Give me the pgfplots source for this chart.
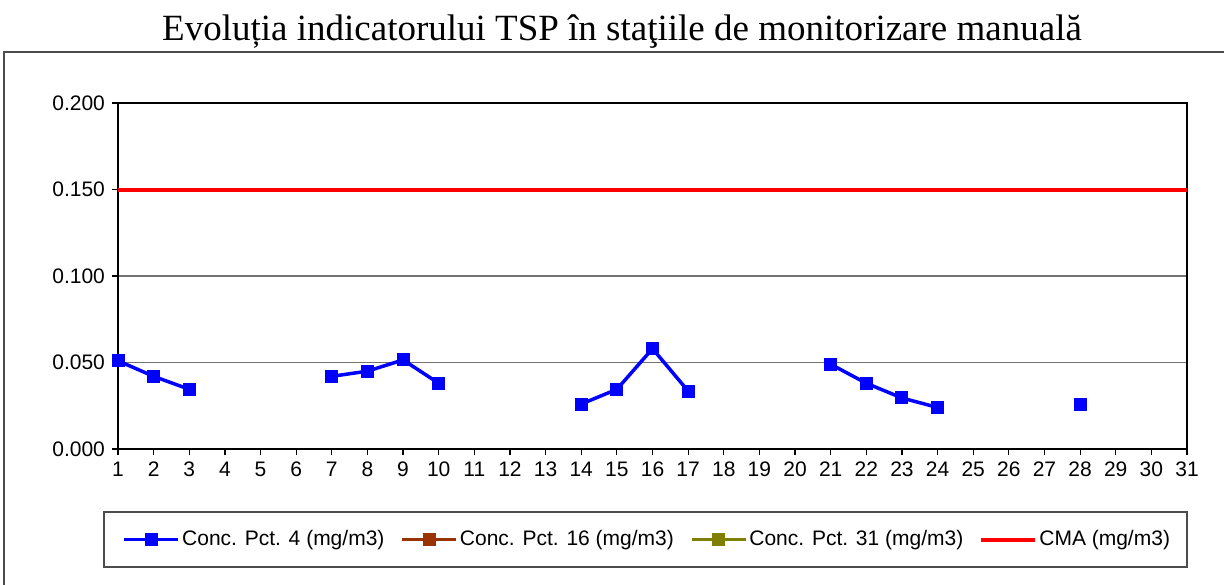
\documentclass[border=0pt]{standalone}
\usepackage{pgfplots}
\pgfplotsset{compat=1.18}
\usepackage{fontspec}
\setmainfont{Liberation Sans}
\newfontfamily\titlefont{Liberation Serif}
\definecolor{pblue}{RGB}{0,0,255}
\definecolor{pbrown}{RGB}{153,51,0}
\definecolor{polive}{RGB}{128,128,0}
\definecolor{pred}{RGB}{255,0,0}
\begin{document}
\begin{tikzpicture}[x=1pt,y=1pt]
\useasboundingbox (0,0) rectangle (612,292);
\draw[line width=0.7pt, black!70] (2,-5) rectangle (620,266);
\node[font=\titlefont\fontsize{18.5}{21}\selectfont] at (311,276) {Evoluția indicatorului TSP în staţiile de monitorizare manuală};
\begin{axis}[
  at={(59pt,67.5pt)}, anchor=south west,
  width=534.5pt, height=173pt, scale only axis,
  xmin=1, xmax=31, ymin=0, ymax=0.2,
  xtick={1,...,31},
  ytick={0,0.05,0.1,0.15,0.2},
  scaled y ticks=false,
  yticklabel style={/pgf/number format/.cd, fixed, fixed zerofill, precision=3, assume math mode=true},
  xticklabel style={/pgf/number format/assume math mode=true},
  tick label style={font=\fontsize{10.5}{12}\selectfont},
  ymajorgrids,
  grid style={black!55, line width=0.7pt},
  axis line style={line width=1pt},
  tick style={black, line width=0.6pt},
  tick align=outside,
  xtick pos=bottom, ytick pos=left,
  major tick length=3pt,
  unbounded coords=jump,
  legend columns=4,
  legend image code/.code={\draw[mark repeat=2,mark phase=2,#1] plot coordinates {(0pt,0pt)(13.5pt,0pt)(27pt,0pt)};},
  legend style={at={(0.004,-0.2616)}, anchor=west, draw=none, fill=none, inner sep=0pt,
    font=\fontsize{10.5}{12}\selectfont,
    nodes={inner xsep=1pt},
    /tikz/every odd column/.append style={column sep=0pt},
    /tikz/every even column/.append style={column sep=7pt}},
]
\addplot[pblue, line width=1.75pt, mark=square*, mark size=3pt, mark options={solid, fill=pblue, line width=0.5pt}]
  coordinates {(1,0.051)(2,0.042)(3,0.0345)(4,nan)(7,0.042)(8,0.045)(9,0.0515)(10,0.038)(11,nan)
  (14,0.026)(15,0.0345)(16,0.058)(17,0.0335)(18,nan)(21,0.049)(22,0.038)(23,0.0295)(24,0.024)(25,nan)(28,0.026)};
\addlegendentry{Conc. Pct. 4 (mg/m3)}
\addlegendimage{pbrown, line width=1.75pt, mark=square*, mark size=3pt, mark options={solid, fill=pbrown, line width=0.5pt}}
\addlegendentry{Conc. Pct. 16 (mg/m3)}
\addlegendimage{polive, line width=1.75pt, mark=square*, mark size=3pt, mark options={solid, fill=polive, line width=0.5pt}}
\addlegendentry{Conc. Pct. 31 (mg/m3)}
\addplot[pred, line width=2pt, no marks] coordinates {(1,0.15)(31,0.15)};
\addlegendentry{CMA (mg/m3)}
\end{axis}
\draw[line width=0.7pt, black!70] (52,8.5) rectangle (593.5,36);
\end{tikzpicture}
\end{document}
